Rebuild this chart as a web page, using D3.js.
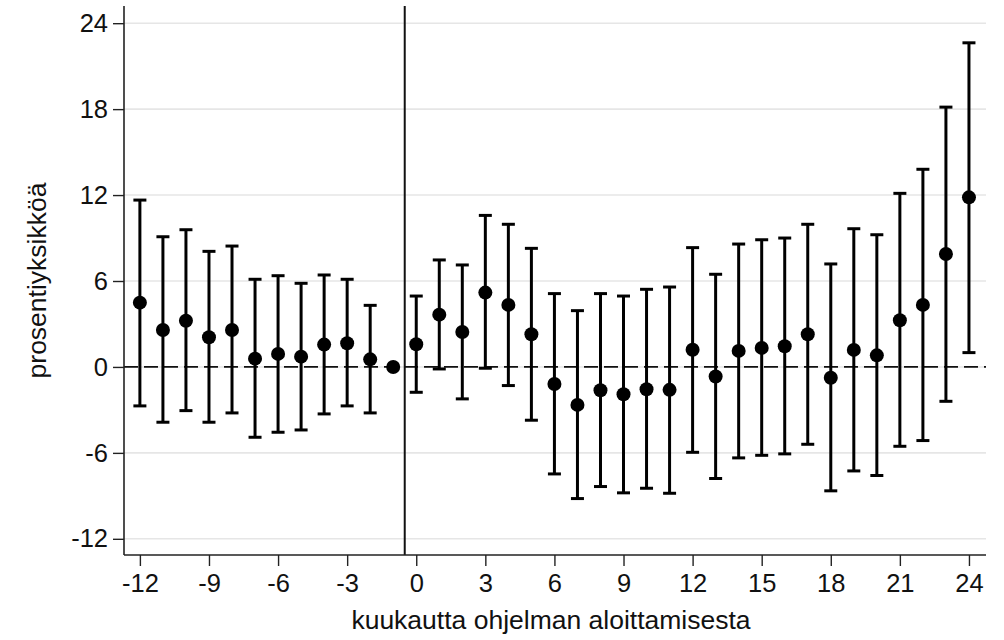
<!DOCTYPE html>
<html>
<head>
<meta charset="utf-8">
<script src="https://cdn.jsdelivr.net/npm/d3@7"></script>
<style>
  html, body { margin: 0; padding: 0; background: #ffffff; }
  svg { display: block; font-family: "Liberation Sans", Arial, Helvetica, sans-serif; }
</style>
</head>
<body>
<svg id="chart" width="1004" height="640"></svg>
<script>
// Months relative to programme start
const months = [-12,-11,-10,-9,-8,-7,-6,-5,-4,-3,-2,-1,0,1,2,3,4,5,6,7,8,9,10,11,12,13,14,15,16,17,18,19,20,21,22,23,24];
// Point estimates (percentage points)
const estimate = [4.49,2.58,3.23,2.07,2.58,0.58,0.91,0.72,1.56,1.65,0.53,0,1.58,3.65,2.44,5.19,4.33,2.28,-1.19,-2.65,-1.63,-1.91,-1.56,-1.60,1.20,-0.67,1.12,1.33,1.44,2.28,-0.75,1.19,0.81,3.26,4.33,7.89,11.84];
// Upper confidence limits
const upper = [11.65,9.09,9.58,8.07,8.44,6.12,6.37,5.84,6.42,6.12,4.30,null,4.95,7.47,7.12,10.58,9.96,8.28,5.12,3.93,5.12,4.95,5.42,5.58,8.33,6.47,8.58,8.88,9.00,9.96,7.19,9.65,9.23,12.12,13.80,18.14,22.63];
// Lower confidence limits
const lower = [-2.72,-3.86,-3.05,-3.86,-3.21,-4.91,-4.56,-4.40,-3.28,-2.72,-3.21,null,-1.77,-0.14,-2.23,-0.09,-1.30,-3.72,-7.47,-9.19,-8.35,-8.79,-8.47,-8.82,-5.96,-7.79,-6.35,-6.17,-6.07,-5.40,-8.65,-7.26,-7.58,-5.54,-5.14,-2.40,1.00];

const xTicks = [-12,-9,-6,-3,0,3,6,9,12,15,18,21,24];
const yTicks = [-12,-6,0,6,12,18,24];
const xTitle = "kuukautta ohjelman aloittamisesta";
const yTitle = "prosentiyksikköä";
const eventLine = -0.5;

const data = months.map((m, i) => ({ m, est: estimate[i], hi: upper[i], lo: lower[i] }));

const svg = d3.select("#chart");
const L = 124, R = 986, T = 6, B = 555;

const x = d3.scaleLinear().domain([-12.69, 24.74]).range([L, R]);
const y = d3.scaleLinear().domain([-13.13, 25.2]).range([B, T]);

// gridlines
svg.append("g").selectAll("line").data(yTicks).join("line")
  .attr("x1", L).attr("x2", R)
  .attr("y1", d => y(d)).attr("y2", d => y(d))
  .attr("stroke", "#e6e6e6").attr("stroke-width", 1.6);

// zero dashed line
svg.append("line")
  .attr("x1", L).attr("x2", R)
  .attr("y1", y(0)).attr("y2", y(0))
  .attr("stroke", "#111").attr("stroke-width", 1.8)
  .attr("stroke-dasharray", "14,6");

// event vertical line
svg.append("line")
  .attr("x1", x(eventLine)).attr("x2", x(eventLine))
  .attr("y1", T).attr("y2", B)
  .attr("stroke", "#111").attr("stroke-width", 2);

// axes
const yAxis = d3.axisLeft(y).tickValues(yTicks).tickSize(11).tickPadding(5).tickFormat(d3.format("d"));
const xAxis = d3.axisBottom(x).tickValues(xTicks).tickSize(11).tickPadding(8).tickFormat(d3.format("d"));

const gy = svg.append("g").attr("transform", `translate(${L},0)`).call(yAxis);
const gx = svg.append("g").attr("transform", `translate(0,${B})`).call(xAxis);

[gy, gx].forEach(g => {
  g.select(".domain").remove();
  g.selectAll(".tick line").attr("stroke", "#222").attr("stroke-width", 1.4);
  g.selectAll(".tick text").attr("fill", "#111").style("font-size", "25.5px")
    .style("font-family", '"Liberation Sans", Arial, sans-serif');
});
gx.selectAll(".tick text").text(d => d < 0 ? "-" + Math.abs(d) : d);
gy.selectAll(".tick text").text(d => d < 0 ? "-" + Math.abs(d) : d);

// axis lines
svg.append("line").attr("x1", L).attr("x2", L).attr("y1", T).attr("y2", B)
  .attr("stroke", "#222").attr("stroke-width", 1.6);
svg.append("line").attr("x1", L).attr("x2", R).attr("y1", B).attr("y2", B)
  .attr("stroke", "#222").attr("stroke-width", 1.6);

// error bars
const ci = data.filter(d => d.hi !== null && d.lo !== null);
const eb = svg.append("g").attr("stroke", "#000").attr("stroke-width", 3);
eb.selectAll("line.v").data(ci).join("line").attr("class", "v")
  .attr("x1", d => x(d.m)).attr("x2", d => x(d.m))
  .attr("y1", d => y(d.hi)).attr("y2", d => y(d.lo));
eb.selectAll("line.hi").data(ci).join("line").attr("class", "hi")
  .attr("x1", d => x(d.m) - 6.5).attr("x2", d => x(d.m) + 6.5)
  .attr("y1", d => y(d.hi)).attr("y2", d => y(d.hi));
eb.selectAll("line.lo").data(ci).join("line").attr("class", "lo")
  .attr("x1", d => x(d.m) - 6.5).attr("x2", d => x(d.m) + 6.5)
  .attr("y1", d => y(d.lo)).attr("y2", d => y(d.lo));

// points
svg.append("g").selectAll("circle").data(data).join("circle")
  .attr("cx", d => x(d.m)).attr("cy", d => y(d.est)).attr("r", 7)
  .attr("fill", "#000");

// titles
svg.append("text")
  .attr("x", 551).attr("y", 629)
  .attr("text-anchor", "middle")
  .style("font-size", "26.5px").attr("fill", "#111")
  .text(xTitle);

svg.append("text")
  .attr("transform", `translate(46,${(T + B) / 2}) rotate(-90)`)
  .attr("text-anchor", "middle")
  .style("font-size", "26.5px").attr("fill", "#111")
  .text(yTitle);
</script>
</body>
</html>
